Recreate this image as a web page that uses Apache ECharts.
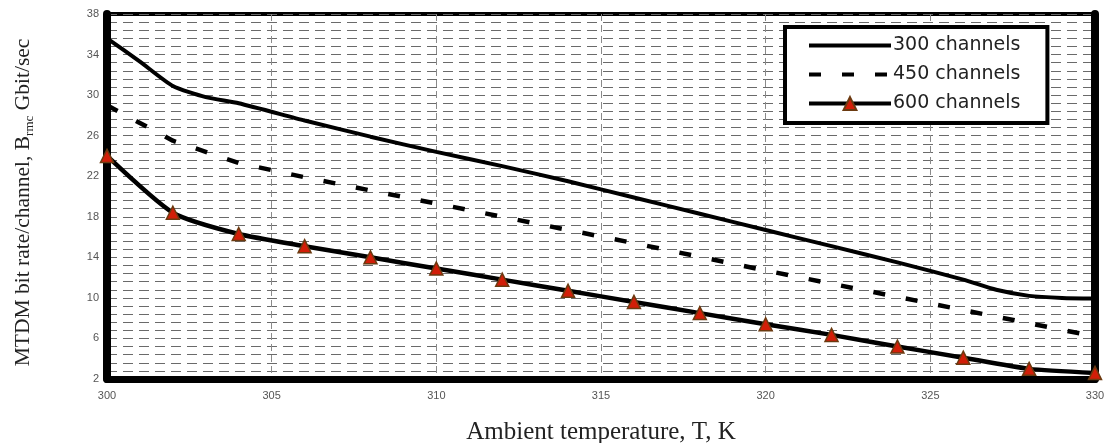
<!DOCTYPE html>
<html><head><meta charset="utf-8">
<script src="https://cdn.jsdelivr.net/npm/echarts@6/dist/echarts.min.js"></script>
<style>html,body{margin:0;padding:0;background:#fff}#c{width:1107px;height:443px}</style>
</head><body><div id="c"></div>
<script>
// ---- data ----
const seriesNames = ['300 channels', '450 channels', '600 channels'];
const temps300 = [300, 301, 302, 303, 304, 306, 308, 310, 312, 314, 316, 318, 320, 322, 324, 326, 327, 328, 329, 330];
const vals300  = [35.6, 33.3, 30.9, 29.8, 29.2, 27.5, 25.9, 24.4, 23.0, 21.5, 19.9, 18.3, 16.7, 15.1, 13.5, 11.8, 10.8, 10.2, 10.0, 9.95];
const temps450 = [300, 302, 304, 306, 308, 310, 312, 314, 316, 318, 320, 322, 324, 326, 328, 330];
const vals450  = [29.0, 25.5, 23.3, 21.9, 20.6, 19.3, 18.0, 16.7, 15.4, 14.05, 12.7, 11.4, 10.1, 8.8, 7.5, 6.2];
const temps600 = [300, 302, 304, 306, 308, 310, 312, 314, 316, 318, 320, 322, 324, 326, 328, 330];
const vals600  = [24.0, 18.4, 16.3, 15.1, 14.0, 12.9, 11.8, 10.7, 9.6, 8.5, 7.4, 6.35, 5.2, 4.1, 3.0, 2.6];
const xRange = [300, 330]; const xStep = 5;
const yRange = [2, 38];    const yStep = 4;
const xTitle = 'Ambient temperature, T, K';
const yTitleParts = ['MTDM bit rate/channel, B', 'rmc', ' Gbit/sec'];

const zip = (xs, ys) => xs.map((x, i) => [x, ys[i]]);
const gridLine = { show: true, lineStyle: { color: '#6a6a6a', width: 1, type: [10, 6] } };

const chart = echarts.init(document.getElementById('c'), null, { renderer: 'canvas' });
chart.setOption({
  backgroundColor: '#fff',
  animation: false,
  grid: {
    left: 107, right: 12, top: 14, bottom: 64, containLabel: false, outerBoundsMode: 'none',
    show: true, borderColor: '#000', borderWidth: 4, backgroundColor: 'transparent'
  },
  legend: {
    orient: 'vertical', left: 785, top: 27,
    data: [
      { name: seriesNames[0], itemStyle: { opacity: 0 } },
      { name: seriesNames[1], itemStyle: { opacity: 0 } },
      { name: seriesNames[2] }
    ],
    backgroundColor: '#fff', borderColor: '#000', borderWidth: 4, borderRadius: 0,
    padding: [9, 27, 10, 22], itemWidth: 82, itemHeight: 16, itemGap: 10,
    lineStyle: { width: 4 },
    textStyle: { fontFamily: 'DejaVu Sans', fontSize: 19, lineHeight: 16, color: '#222', padding: [0, 0, 0, -3] }
  },
  xAxis: {
    type: 'value', min: xRange[0], max: xRange[1], interval: xStep,
    name: xTitle, nameLocation: 'middle', nameGap: 41,
    nameTextStyle: { fontFamily: 'Liberation Serif', fontSize: 25, color: '#222' },
    axisLine: { show: true, onZero: false, lineStyle: { color: '#000', width: 7 } },
    axisTick: { show: false },
    axisLabel: { margin: 11, fontFamily: 'Liberation Sans', fontSize: 11, color: '#555' },
    splitLine: { show: true, lineStyle: { color: '#8a8a8a', width: 1, type: [7, 4] } }
  },
  yAxis: [{
    type: 'value', min: yRange[0], max: yRange[1], interval: yStep,
    name: '{a|' + yTitleParts[0] + '}{s|' + yTitleParts[1] + '}{a|' + yTitleParts[2] + '}',
    nameLocation: 'middle', nameGap: 71, nameRotate: 90,
    nameTextStyle: {
      padding: [0, 12, 0, 0],
      rich: {
        a: { fontFamily: 'Liberation Serif', fontSize: 21.5, color: '#222', lineHeight: 26, verticalAlign: 'middle' },
        s: { fontFamily: 'Liberation Serif', fontSize: 13, color: '#222', lineHeight: 26, verticalAlign: 'bottom' }
      }
    },
    axisLine: { show: true, lineStyle: { color: '#000', width: 8 } },
    axisTick: { show: false },
    axisLabel: { margin: 8, fontFamily: 'Liberation Sans', fontSize: 11, color: '#555' },
    splitLine: gridLine,
    minorTick: { show: false, splitNumber: 5 },
    minorSplitLine: gridLine
  }, {
    type: 'value', min: yRange[0], max: yRange[1], interval: yStep, position: 'right',
    axisLine: { show: true, lineStyle: { color: '#000', width: 8 } },
    axisTick: { show: false }, axisLabel: { show: false }, splitLine: { show: false }
  }],
  series: [
    {
      name: seriesNames[0], type: 'line', data: zip(temps300, vals300),
      smooth: 0.2, symbol: 'none',
      lineStyle: { color: '#000', width: 4 }, itemStyle: { color: '#000' }
    },
    {
      name: seriesNames[1], type: 'line', data: zip(temps450, vals450),
      smooth: false, symbol: 'none',
      lineStyle: { color: '#000', width: 4.5, type: [12, 21] }, itemStyle: { color: '#000' }
    },
    {
      name: seriesNames[2], type: 'line', data: zip(temps600, vals600),
      smooth: 0.2, symbol: 'triangle', symbolSize: 13, showAllSymbol: true,
      lineStyle: { color: '#000', width: 4.5 },
      itemStyle: { color: '#d21e08', borderColor: '#6b3a10', borderWidth: 1.5 }
    }
  ]
});
</script></body></html>
